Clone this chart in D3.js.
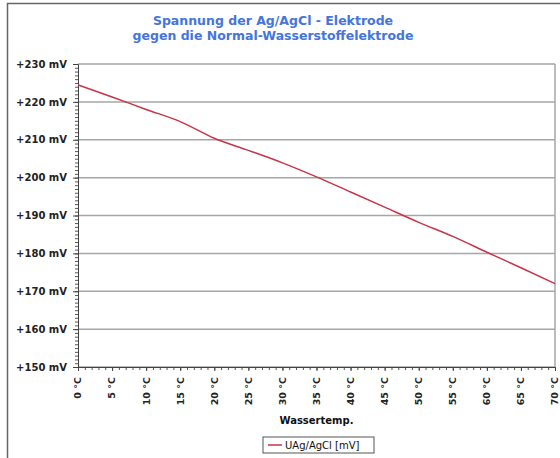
<!DOCTYPE html>
<html>
<head>
<meta charset="utf-8">
<script src="https://cdn.jsdelivr.net/npm/d3@7"></script>
<style>
  body { margin: 0; background: #fff; }
  text { font-family: "DejaVu Sans", sans-serif; }
</style>
</head>
<body>
<div id="chart"></div>
<script>
// values, every 5 °C
var temps = [0, 5, 10, 15, 20, 25, 30, 35, 40, 45, 50, 55, 60, 65, 70];
var voltages = [224.5, 221.3, 218, 214.8, 210.4, 207.2, 203.9, 200.2, 196.2, 192.2, 188.2, 184.5, 180.3, 176.2, 172];
var yTicks = [150, 160, 170, 180, 190, 200, 210, 220, 230];
var titleLines = ["Spannung der Ag/AgCl - Elektrode", "gegen die Normal-Wasserstoffelektrode"];
var seriesName = "UAg/AgCl [mV]";

var width = 560, height = 458;
var plot = {left: 78, right: 555, top: 64, bottom: 367};

var svg = d3.select("#chart")
  .append("svg")
    .attr("width", width)
    .attr("height", height);

// outer chart frame
svg.append("rect")
  .attr("x", 7.5)
  .attr("y", 3.5)
  .attr("width", 570)
  .attr("height", 470)
  .attr("fill", "#fff")
  .attr("stroke", "#666")
  .attr("stroke-width", 1.5);

var x = d3.scaleLinear().domain([0, 70]).range([plot.left, plot.right]);
var y = d3.scaleLinear().domain([150, 230]).range([plot.bottom, plot.top]);

// title
svg.append("g").selectAll("text")
  .data(titleLines)
  .enter().append("text")
    .attr("x", 273)
    .attr("y", function(d, i) { return 25 + i * 15; })
    .attr("text-anchor", "middle")
    .attr("font-size", "12.5px")
    .attr("font-weight", "bold")
    .attr("fill", "#4474dc")
    .text(function(d) { return d; });

// grid lines
svg.append("g").selectAll("line")
  .data(yTicks)
  .enter().append("line")
    .attr("x1", plot.left)
    .attr("x2", plot.right)
    .attr("y1", function(d) { return y(d); })
    .attr("y2", function(d) { return y(d); })
    .attr("stroke", "#a6a6a6")
    .attr("stroke-width", 1.5);

// right border of the plot area
svg.append("line")
  .attr("x1", plot.right).attr("x2", plot.right)
  .attr("y1", plot.top).attr("y2", plot.bottom)
  .attr("stroke", "#a6a6a6")
  .attr("stroke-width", 1.5);

// y axis, minor ticks every 1 mV
var yAxis = d3.axisLeft(y)
  .tickValues(yTicks)
  .tickSize(5)
  .tickPadding(6)
  .tickFormat(function(d) { return "+" + d + " mV"; });

svg.append("g")
  .attr("transform", "translate(" + plot.left + ",0)")
  .call(d3.axisLeft(y).ticks(80).tickSize(3).tickFormat(""))
  .call(function(g) { g.select(".domain").remove(); })
  .selectAll("line").attr("stroke", "#555");

var gy = svg.append("g")
  .attr("transform", "translate(" + plot.left + ",0)")
  .call(yAxis);
gy.select(".domain").attr("stroke", "#444");
gy.selectAll(".tick line").attr("stroke", "#444");
gy.selectAll("text")
  .attr("font-size", "10px")
  .attr("font-weight", "bold")
  .attr("fill", "#222");

// x axis, minor ticks every 1 °C
svg.append("g")
  .attr("transform", "translate(0," + plot.bottom + ")")
  .call(d3.axisBottom(x).ticks(70).tickSize(3).tickFormat(""))
  .call(function(g) { g.select(".domain").remove(); })
  .selectAll("line").attr("stroke", "#555");

var gx = svg.append("g")
  .attr("transform", "translate(0," + plot.bottom + ")")
  .call(d3.axisBottom(x).tickValues(temps).tickSize(4).tickFormat(function(d) { return d + " °C"; }));
gx.select(".domain").attr("stroke", "#444");
gx.selectAll(".tick line").attr("stroke", "#444");
gx.selectAll("text")
  .attr("font-size", "9.5px")
  .attr("font-weight", "bold")
  .attr("fill", "#222")
  .attr("text-anchor", "end")
  .attr("transform", "rotate(-90)")
  .attr("x", -10)
  .attr("y", 0)
  .attr("dy", "0.3em");

// axis title
svg.append("text")
  .attr("x", (plot.left + plot.right) / 2)
  .attr("y", 424)
  .attr("text-anchor", "middle")
  .attr("font-size", "10px")
  .attr("font-weight", "bold")
  .attr("fill", "#111")
  .text("Wassertemp.");

// the series
var line = d3.line()
  .x(function(d, i) { return x(temps[i]); })
  .y(function(d) { return y(d); })
  .curve(d3.curveMonotoneX);

svg.append("path")
  .datum(voltages)
  .attr("fill", "none")
  .attr("stroke", "#c8344a")
  .attr("stroke-width", 1.5)
  .attr("d", line);

// legend
var legend = svg.append("g").attr("transform", "translate(263,437)");
legend.append("rect")
  .attr("width", 111)
  .attr("height", 16)
  .attr("fill", "#fff")
  .attr("stroke", "#555");
legend.append("line")
  .attr("x1", 5).attr("x2", 19)
  .attr("y1", 8).attr("y2", 8)
  .attr("stroke", "#c8344a")
  .attr("stroke-width", 1.5);
legend.append("text")
  .attr("x", 22)
  .attr("y", 12)
  .attr("font-size", "10px")
  .attr("fill", "#111")
  .text(seriesName);
</script>
</body>
</html>
